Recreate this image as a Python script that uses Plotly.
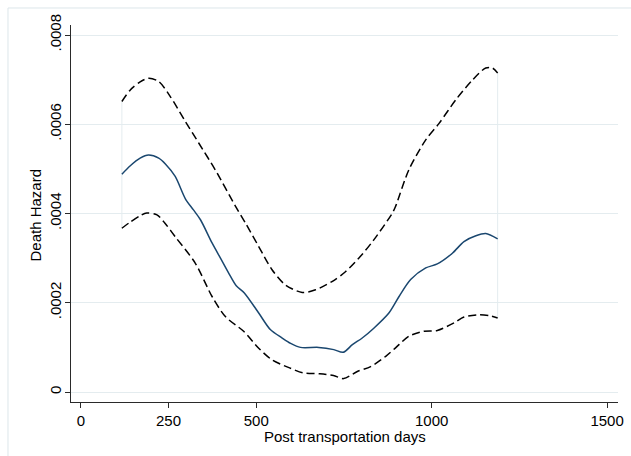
import plotly.graph_objects as go

# ---- data ----
days_mid = [117, 141, 169, 193, 222, 241, 269, 298, 321, 341, 374, 398, 421, 443, 466,
            507, 540, 574, 598, 626, 678, 721, 748, 774, 802, 835, 878, 907, 940, 983,
            1016, 1059, 1092, 1126, 1154, 1188]
haz_mid = [4.88, 5.07, 5.24, 5.31, 5.24, 5.11, 4.83, 4.33, 4.08, 3.86, 3.34, 3.00, 2.67, 2.38, 2.22,
           1.77, 1.40, 1.21, 1.09, 1.00, 1.00, 0.95, 0.89, 1.06, 1.21, 1.43, 1.77, 2.14, 2.52, 2.78,
           2.87, 3.11, 3.37, 3.50, 3.55, 3.43]

days_up = [117, 141, 169, 193, 222, 255, 298, 336, 383, 441, 469, 507, 545, 583, 631,
           669, 717, 755, 797, 835, 888, 897, 935, 983, 1021, 1069, 1116, 1154, 1173, 1188]
haz_up = [6.51, 6.77, 6.95, 7.03, 6.96, 6.62, 6.06, 5.58, 4.98, 4.16, 3.79, 3.26, 2.74, 2.40, 2.23,
          2.29, 2.48, 2.70, 3.04, 3.41, 4.01, 4.16, 4.98, 5.65, 6.02, 6.55, 6.99, 7.26, 7.26, 7.15]

days_lo = [117, 141, 169, 188, 217, 241, 269, 326, 374, 412, 464, 507, 545, 595, 633,
           681, 720, 749, 788, 826, 869, 897, 935, 978, 1016, 1064, 1092, 1135, 1164, 1188]
haz_lo = [3.67, 3.81, 3.95, 4.01, 3.97, 3.77, 3.48, 2.89, 2.14, 1.69, 1.36, 0.98, 0.72, 0.54, 0.43,
          0.41, 0.37, 0.30, 0.46, 0.57, 0.80, 0.99, 1.25, 1.36, 1.38, 1.55, 1.68, 1.73, 1.71, 1.66]

SCALE = 1e-4  # hazards above are in units of 1e-4

x_ticks = [0, 250, 500, 1000, 1500]
y_ticks = [0, 0.0002, 0.0004, 0.0006, 0.0008]
y_ticktext = ["0", ".0002", ".0004", ".0006", ".0008"]

x_title = "Post transportation days"
y_title = "Death Hazard"

# ---- styling ----
FONT = "Arial, 'Liberation Sans', sans-serif"
GRID = "#e4ecef"
BORDER = "#dde6ea"
AXIS = "#2a2a2a"
NAVY = "#1a476f"

mid = [v * SCALE for v in haz_mid]
up = [v * SCALE for v in haz_up]
lo = [v * SCALE for v in haz_lo]

fig = go.Figure()

# faint end lines joining the band limits
fig.add_trace(go.Scatter(x=[days_lo[0], days_up[0]], y=[lo[0], up[0]], mode="lines",
                         line=dict(color=GRID, width=1), hoverinfo="skip", showlegend=False))
fig.add_trace(go.Scatter(x=[days_lo[-1], days_up[-1]], y=[lo[-1], up[-1]], mode="lines",
                         line=dict(color=GRID, width=1), hoverinfo="skip", showlegend=False))

dash_line = dict(color="black", width=1.5, dash="8px,4px", shape="spline", smoothing=0.8)
fig.add_trace(go.Scatter(x=days_up, y=up, mode="lines", line=dash_line, showlegend=False))
fig.add_trace(go.Scatter(x=days_lo, y=lo, mode="lines", line=dash_line, showlegend=False))
fig.add_trace(go.Scatter(x=days_mid, y=mid, mode="lines",
                         line=dict(color=NAVY, width=1.5, shape="spline", smoothing=0.8),
                         showlegend=False))

# outer graph-region border (left and top visible)
fig.add_shape(type="line", xref="paper", yref="paper", x0=-0.1152, x1=1.2, y0=1.0451, y1=1.0451,
              line=dict(color=BORDER, width=1))
fig.add_shape(type="line", xref="paper", yref="paper", x0=-0.1152, x1=-0.1152, y0=-0.3, y1=1.0451,
              line=dict(color=BORDER, width=1))

# axis titles
fig.add_annotation(text=x_title, xref="paper", yref="paper", x=0.5, y=-0.0902,
                   xanchor="center", yanchor="middle", showarrow=False, font=dict(size=15))
fig.add_annotation(text=y_title, xref="paper", yref="paper", x=-0.0649, y=0.496,
                   xanchor="center", yanchor="middle", textangle=-90, showarrow=False,
                   font=dict(size=15))

fig.update_layout(
    template="none",
    width=631, height=456,
    margin=dict(l=71, r=13, t=25, b=54),
    paper_bgcolor="white", plot_bgcolor="white",
    font=dict(family=FONT, size=15, color="black"),
    showlegend=False,
)
fig.update_xaxes(
    automargin=False,
    range=[-28, 1531], tickvals=x_ticks, ticktext=[str(t) for t in x_ticks],
    showgrid=False, zeroline=False,
    showline=True, linecolor=AXIS, linewidth=1,
    ticks="outside", ticklen=5, tickcolor=AXIS, tickwidth=1,
    tickfont=dict(size=15),
)
fig.update_yaxes(
    automargin=False,
    range=[-0.0000224, 0.0008224], tickvals=y_ticks, ticktext=y_ticktext,
    tickangle=-90, ticklabelstandoff=-2,
    showgrid=True, gridcolor=GRID, gridwidth=1, zeroline=False,
    showline=True, linecolor=AXIS, linewidth=1,
    ticks="outside", ticklen=5, tickcolor=AXIS, tickwidth=1,
    tickfont=dict(size=15),
)

fig.write_html("out.html", config={"displayModeBar": False},
               post_script="document.body.style.margin='0px';document.body.style.overflow='hidden';")
